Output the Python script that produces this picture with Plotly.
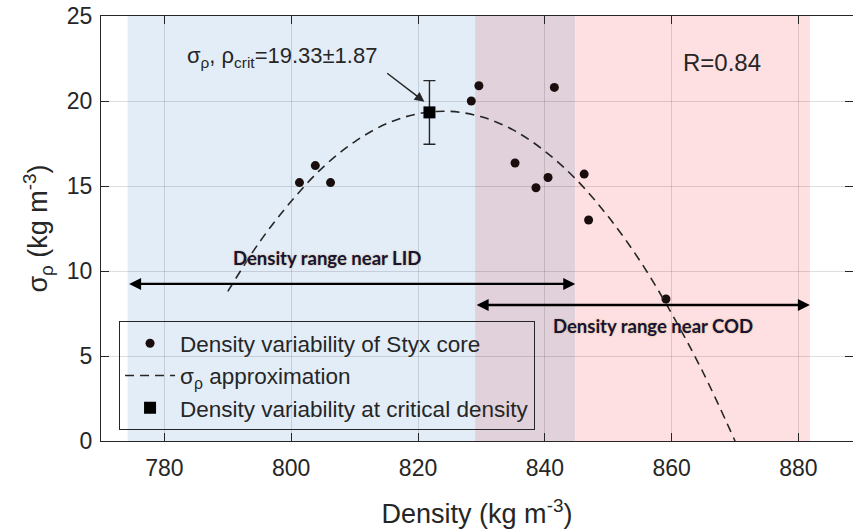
import plotly.graph_objects as go

# ---- data ----
density = [801.3, 803.8, 806.2, 828.4, 829.6, 835.3, 838.6, 840.5, 841.5, 846.2, 846.9, 859.1]
sigma = [15.2, 16.2, 15.2, 20.0, 20.9, 16.35, 14.9, 15.5, 20.8, 15.7, 13.0, 8.35]

fit_x = [790, 795, 800, 805, 810, 815, 820, 825, 830, 835, 840, 845, 850, 855, 860, 865, 870]
fit_y = [8.8, 11.7, 14.1, 16.1, 17.6, 18.66, 19.25, 19.39, 19.07, 18.3, 17.05, 15.36, 13.2, 10.6, 7.5, 4.0, 0.0]

crit_x = [821.8]
crit_y = [19.33]
crit_err = [1.87]

lid_range = [774.2, 844.8]
cod_range = [829.0, 881.8]
lid_arrow_y = 9.24
cod_arrow_y = 8.0

x_ticks = [780, 800, 820, 840, 860, 880]
y_ticks = [0, 5, 10, 15, 20, 25]

AX = "#262626"
FONT = "Liberation Sans, Arial, sans-serif"

fig = go.Figure()

fig.add_trace(go.Scatter(
    x=density, y=sigma, mode="markers",
    marker=dict(size=9, color="#1a0d0d"),
    name="Density variability of Styx core"))
fig.add_trace(go.Scatter(
    x=fit_x, y=fit_y, mode="lines",
    line=dict(color=AX, width=1.6, dash="9px,6px", shape="spline"),
    name="σ<sub>ρ</sub> approximation"))
fig.add_trace(go.Scatter(
    x=crit_x, y=crit_y, mode="markers",
    marker=dict(symbol="square", size=12, color="black"),
    error_y=dict(type="data", array=crit_err, color=AX, thickness=1.4, width=6),
    name="Density variability at critical density"))

# shaded density ranges (blue = LID, pink = COD, overlap purple)
fig.add_shape(type="rect", xref="x", yref="y", x0=lid_range[0], x1=cod_range[0], y0=0, y1=25,
              fillcolor="#e3edf8", line_width=0, layer="below")
fig.add_shape(type="rect", xref="x", yref="y", x0=cod_range[0], x1=lid_range[1], y0=0, y1=25,
              fillcolor="#e0d1db", line_width=0, layer="below")
fig.add_shape(type="rect", xref="x", yref="y", x0=lid_range[1], x1=cod_range[1], y0=0, y1=25,
              fillcolor="#ffe0e2", line_width=0, layer="below")

# double-headed range arrows
for rng, yy in [(lid_range, lid_arrow_y), (cod_range, cod_arrow_y)]:
    fig.add_annotation(x=rng[1], y=yy, ax=rng[0], ay=yy, xref="x", yref="y", axref="x", ayref="y",
                       text="", showarrow=True, arrowhead=2, startarrowhead=2, arrowside="end+start",
                       arrowsize=1, startarrowsize=1, arrowwidth=2.4, arrowcolor="black")

lab_font = dict(family="Lato, Open Sans, sans-serif", size=18.5, color="#14143c", weight="bold",
                shadow="0px 0px 2px rgba(210,170,80,0.9)")
fig.add_annotation(x=805.7, y=10.76, xref="x", yref="y", text="Density range near LID",
                   showarrow=False, font=lab_font)
fig.add_annotation(x=857.0, y=6.76, xref="x", yref="y", text="Density range near COD",
                   showarrow=False, font=lab_font)

fig.add_annotation(x=868.0, y=22.24, xref="x", yref="y", text="R=0.84", showarrow=False,
                   font=dict(family=FONT, size=24, color=AX))

fig.add_annotation(x=798.5, y=22.6, xref="x", yref="y",
                   text="σ<sub>ρ</sub>, ρ<sub>crit</sub>=19.33±1.87", showarrow=False,
                   font=dict(family=FONT, size=22, color=AX))
fig.add_annotation(x=821.0, y=19.96, ax=814.9, ay=21.7, xref="x", yref="y", axref="x", ayref="y",
                   text="", showarrow=True, arrowhead=2, arrowsize=1.3, arrowwidth=1.5,
                   arrowcolor=AX)

fig.update_layout(
    width=853, height=532,
    margin=dict(l=101, r=0, t=16, b=91),
    plot_bgcolor="white", paper_bgcolor="white",
    font=dict(family=FONT, color=AX),
    showlegend=True,
    legend=dict(x=0.024, y=0.282, xanchor="left", yanchor="top",
                bgcolor="rgba(0,0,0,0)", bordercolor=AX, borderwidth=1,
                font=dict(family=FONT, size=22.5, color=AX), itemwidth=50, tracegroupgap=0),
    xaxis=dict(range=[770, 888.6], tickvals=x_ticks, ticks="inside", ticklen=8, tickcolor=AX,
               showline=True, linecolor=AX, linewidth=1, mirror="ticks", automargin=False,
               showgrid=True, gridcolor="rgba(0,0,0,0.13)", zeroline=False,
               tickfont=dict(family=FONT, size=23, color=AX), ticklabelstandoff=6,
               title=dict(text="Density (kg m<sup>-3</sup>)", font=dict(family=FONT, size=27, color=AX),
                          standoff=24)),
    yaxis=dict(range=[0, 25], tickvals=y_ticks, ticks="inside", ticklen=8, tickcolor=AX,
               showline=True, linecolor=AX, linewidth=1, mirror="ticks", automargin=False,
               ticklabeloverflow="allow",
               showgrid=True, gridcolor="rgba(0,0,0,0.13)", zeroline=False,
               tickfont=dict(family=FONT, size=23, color=AX), ticklabelstandoff=3,
               title=dict(text="σ<sub>ρ</sub> (kg m<sup>-3</sup>)", font=dict(family=FONT, size=27, color=AX),
                          standoff=11)),
)

fig.write_html("out.html", config={"displayModeBar": False},
               post_script="document.body.style.margin='0';")
